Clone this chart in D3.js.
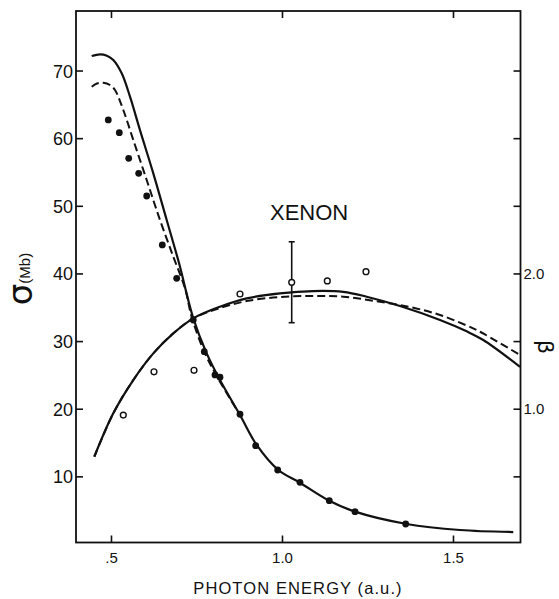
<!DOCTYPE html>
<html>
<head>
<meta charset="utf-8">
<script src="https://cdnjs.cloudflare.com/ajax/libs/d3/7.8.5/d3.min.js"></script>
<style>
  body { margin: 0; background: #fff; }
  text { font-family: "Liberation Sans", Arial, sans-serif; fill: #111; }
</style>
</head>
<body>
<svg></svg>
<script>
// photoionization cross section (sigma, Mb) - solid = theory 1, dashed = theory 2
var sigmaSolid = [
  [0.4436, 72.15], [0.4678, 72.40], [0.488, 72.2], [0.5067, 71.56], [0.5313, 69.59],
  [0.5556, 66.13], [0.5848, 61.19], [0.6237, 54.80], [0.6629, 47.90], [0.7018, 41.00],
  [0.7149, 38.3], [0.7406, 33.37], [0.7798, 28.19], [0.8187, 24.25], [0.8772, 19.07],
  [0.926, 14.64], [0.9892, 10.94], [1.0526, 9.06], [1.1383, 6.40], [1.2135, 4.78],
  [1.3646, 2.96], [1.5205, 2.07], [1.6763, 1.77]
];
var sigmaDashed = [
  [0.4436, 67.61], [0.459, 68.08], [0.4775, 68.20], [0.497, 67.86], [0.5117, 67.12],
  [0.536, 64.16], [0.5652, 59.73], [0.6044, 53.81], [0.6433, 47.90], [0.6822, 42.47],
  [0.7164, 37.80], [0.7368, 33.41], [0.7749, 28.19], [0.8158, 24.25], [0.8772, 19.07]
];
// measured sigma (filled dots)
var sigmaExp = [
  [0.4921, 62.69], [0.5243, 60.81], [0.5518, 57.02], [0.581, 54.80], [0.6044, 51.45],
  [0.65, 44.21], [0.6921, 39.28], [0.7406, 33.12], [0.7728, 28.43], [0.8041, 24.99],
  [0.8187, 24.65], [0.8772, 19.18], [0.9231, 14.53], [0.9874, 10.94], [1.0526, 9.12],
  [1.1383, 6.40], [1.2135, 4.78], [1.3617, 2.96]
];
// asymmetry parameter beta (right axis)
var betaSolid = [
  [0.4512, 0.645], [0.5067, 0.966], [0.5652, 1.212], [0.6237, 1.409], [0.6822, 1.557],
  [0.7406, 1.668], [0.8187, 1.754], [0.8968, 1.816], [0.9942, 1.853], [1.0915, 1.870],
  [1.1792, 1.864], [1.2477, 1.828], [1.345, 1.759], [1.462, 1.656], [1.54, 1.572],
  [1.5886, 1.508], [1.696, 1.310]
];
var betaDashed = [
  [0.4512, 0.645], [0.5067, 0.966], [0.5652, 1.212], [0.6237, 1.409], [0.6822, 1.557],
  [0.7406, 1.668], [0.8187, 1.744], [0.8968, 1.796], [0.9942, 1.826], [1.0915, 1.833],
  [1.1792, 1.828], [1.272, 1.796], [1.374, 1.752], [1.462, 1.693], [1.54, 1.615],
  [1.579, 1.569], [1.696, 1.397]
];
// measured beta (open circles)
var betaExp = [
  [0.536, 0.953], [0.6257, 1.273], [0.7427, 1.284], [0.8772, 1.848],
  [1.0284, 1.934], [1.1325, 1.945], [1.2456, 2.013]
];
var betaErrorBar = [1.0284, 1.636, 2.234];

var xTicks = [0.5, 1.0, 1.5];
var sigmaTicks = [10, 20, 30, 40, 50, 60, 70];
var betaTicks = [0.5, 1.0, 1.5, 2.0, 2.5, 3.0, 3.5];
var betaLabels = [1.0, 2.0];

var W = 559, H = 599;
var frame = {left: 76, right: 520.5, top: 11, bottom: 542.5};

var svg = d3.select("svg").attr("width", W).attr("height", H);

var xScale = d3.scaleLinear().domain([0.3977, 1.6974]).range([frame.left, frame.right]);
var yScale = d3.scaleLinear().domain([0, 78.8]).range([544, frame.top]);
var bScale = d3.scaleLinear().domain([0, 78.8 / 20]).range([544, frame.top]);

// axes, ticks pointing inside the frame
var ax = svg.append("g").attr("class", "axes");

ax.append("g")
  .attr("transform", "translate(" + frame.left + ",0)")
  .call(d3.axisLeft(yScale).tickValues(sigmaTicks).tickSize(-7).tickPadding(3).tickSizeOuter(0))
  .call(function(g) { g.selectAll("text").style("font-size", "18px").attr("dy", "0.36em"); });

ax.append("g")
  .attr("transform", "translate(0," + frame.bottom + ")")
  .call(d3.axisBottom(xScale).tickValues(xTicks).tickSize(-7).tickPadding(10).tickSizeOuter(0)
    .tickFormat(function(d) { return d === 0.5 ? ".5" : d.toFixed(1); }))
  .call(function(g) { g.selectAll("text").style("font-size", "15px"); });

ax.append("g")
  .attr("transform", "translate(0," + frame.top + ")")
  .call(d3.axisTop(xScale).tickValues(xTicks).tickSize(-7).tickSizeOuter(0).tickFormat(""));

ax.append("g")
  .attr("transform", "translate(" + frame.right + ",0)")
  .call(d3.axisRight(bScale).tickValues(betaTicks).tickSize(-7).tickPadding(3).tickSizeOuter(0)
    .tickFormat(function(d) { return betaLabels.indexOf(d) >= 0 ? d.toFixed(1) : ""; }))
  .call(function(g) { g.selectAll("text").style("font-size", "15px"); });

ax.selectAll(".domain").remove();
ax.selectAll(".tick line").attr("stroke", "#111").attr("stroke-width", 1.6);

svg.append("rect")
  .attr("x", frame.left).attr("y", frame.top)
  .attr("width", frame.right - frame.left).attr("height", frame.bottom - frame.top)
  .attr("fill", "none").attr("stroke", "#111").attr("stroke-width", 1.8);

// curves
var sigmaLine = d3.line()
  .x(function(d) { return xScale(d[0]); })
  .y(function(d) { return yScale(d[1]); })
  .curve(d3.curveCatmullRom.alpha(0.5));
var betaLine = d3.line()
  .x(function(d) { return xScale(d[0]); })
  .y(function(d) { return bScale(d[1]); })
  .curve(d3.curveCatmullRom.alpha(0.5));

var curves = svg.append("g").attr("fill", "none").attr("stroke", "#111");
curves.append("path").attr("d", sigmaLine(sigmaDashed))
  .attr("stroke-width", 2).attr("stroke-dasharray", "8,4");
curves.append("path").attr("d", sigmaLine(sigmaSolid)).attr("stroke-width", 2.2);
curves.append("path").attr("d", betaLine(betaDashed))
  .attr("stroke-width", 2).attr("stroke-dasharray", "8,4");
curves.append("path").attr("d", betaLine(betaSolid)).attr("stroke-width", 2.2);

// measured points
svg.append("g").selectAll("circle")
  .data(sigmaExp).enter().append("circle")
  .attr("cx", function(d) { return xScale(d[0]); })
  .attr("cy", function(d) { return yScale(d[1]); })
  .attr("r", 3.4)
  .attr("fill", "#111");

// error bar on one beta point
var eb = svg.append("g").attr("stroke", "#111").attr("stroke-width", 1.6);
eb.append("line")
  .attr("x1", xScale(betaErrorBar[0])).attr("x2", xScale(betaErrorBar[0]))
  .attr("y1", bScale(betaErrorBar[1])).attr("y2", bScale(betaErrorBar[2]));
[betaErrorBar[1], betaErrorBar[2]].forEach(function(v) {
  eb.append("line")
    .attr("x1", xScale(betaErrorBar[0]) - 3).attr("x2", xScale(betaErrorBar[0]) + 3)
    .attr("y1", bScale(v)).attr("y2", bScale(v));
});

svg.append("g").selectAll("circle")
  .data(betaExp).enter().append("circle")
  .attr("cx", function(d) { return xScale(d[0]); })
  .attr("cy", function(d) { return bScale(d[1]); })
  .attr("r", 2.9)
  .attr("fill", "#fff")
  .attr("stroke", "#111")
  .attr("stroke-width", 1.4);

// labels
svg.append("text")
  .attr("x", 270).attr("y", 220)
  .style("font-size", "22px")
  .text("XENON");

svg.append("text")
  .attr("x", 298).attr("y", 594)
  .attr("text-anchor", "middle")
  .style("font-size", "16.5px")
  .style("letter-spacing", "1.1px")
  .text("PHOTON ENERGY (a.u.)");

var sl = svg.append("text")
  .attr("transform", "translate(32,279) rotate(-90)")
  .attr("text-anchor", "middle");
sl.append("tspan").style("font-size", "34px").style("font-family", "'DejaVu Sans', sans-serif").text("σ");
sl.append("tspan").style("font-size", "15px").attr("dy", "-2").text("(Mb)");

svg.append("text")
  .attr("transform", "translate(538,347) rotate(90)")
  .attr("text-anchor", "middle")
  .style("font-size", "22px")
  .style("font-family", "'DejaVu Sans', sans-serif")
  .text("β");
</script>
</body>
</html>
